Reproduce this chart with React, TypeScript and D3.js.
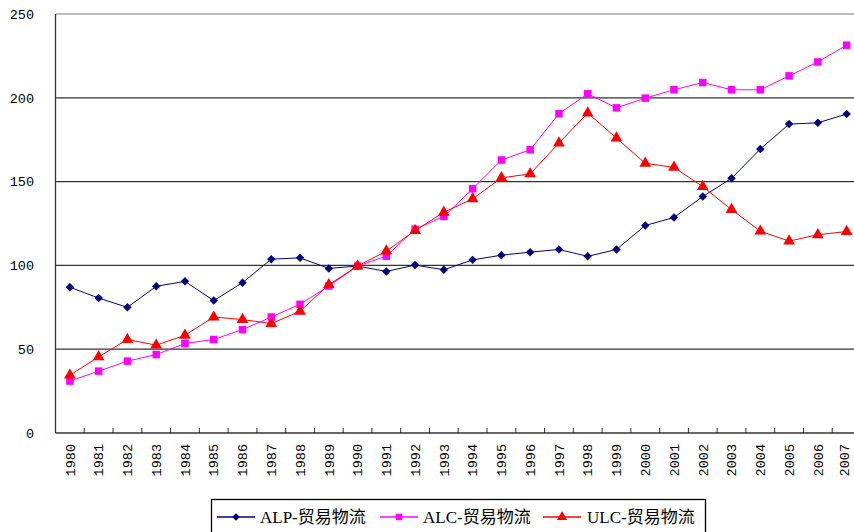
import React from "react";
import * as d3 from "d3";

const years = [
  "1980", "1981", "1982", "1983", "1984", "1985", "1986", "1987", "1988", "1989",
  "1990", "1991", "1992", "1993", "1994", "1995", "1996", "1997", "1998", "1999",
  "2000", "2001", "2002", "2003", "2004", "2005", "2006", "2007",
];

const alp = [
  87, 80.5, 75, 87.5, 90.5, 79, 89.7, 103.7, 104.5, 98.2,
  99.6, 96.4, 100.2, 97.4, 103.3, 106.1, 107.9, 109.5, 105.4, 109.5,
  123.8, 128.6, 141.1, 152, 169.4, 184.3, 185.1, 190.3,
];

const alc = [
  31, 36.9, 42.9, 46.8, 53.4, 55.8, 61.7, 69.2, 76.8, 87.7,
  99.6, 105.5, 121.6, 129.2, 145.7, 162.9, 169, 190.5, 202.4, 194,
  199.8, 204.8, 209.1, 204.8, 204.8, 213.1, 221.4, 231.4,
];

const ulc = [
  34.5, 45.4, 55.8, 52.4, 58.3, 69.2, 67.7, 65.3, 72.6, 88.5,
  99.6, 108.5, 120.8, 131.7, 139.7, 152.2, 154.6, 173, 190.9, 176,
  160.9, 158.5, 147, 133.3, 120.4, 114.5, 118.3, 120.2,
];

const yTicks = [0, 50, 100, 150, 200, 250];

const seriesNames = ["ALP-贸易物流", "ALC-贸易物流", "ULC-贸易物流"];

const W = 854;
const H = 532;
const left = 55.5;
const right = 861;
const top = 14;
const bottom = 433;

const colors = ["#000080", "#FF00FF", "#FF0000"];
const symbols = [d3.symbolSquare, d3.symbolSquare, d3.symbolTriangle];
const symSizes = [36, 56, 60];

export default function App() {
  const x = d3.scaleBand<string>().domain(years).range([left, right]);
  const y = d3.scaleLinear().domain([0, 250]).range([bottom, top]);
  const cx = (yr: string) => (x(yr) as number) + x.bandwidth() / 2;

  const allSeries = [alp, alc, ulc];
  const line = d3
    .line<number>()
    .x((_, i) => cx(years[i]))
    .y((d) => y(d));

  const legendItems = [
    { lx: 217, tx: 260 },
    { lx: 380, tx: 423 },
    { lx: 543, tx: 587 },
  ];

  return (
    <svg
      width={W}
      height={H}
      style={{ position: "fixed", left: 0, top: 0, background: "#fff" }}
    >
      {/* gridlines */}
      {yTicks.slice(1).map((t) => (
        <line
          key={t}
          x1={left}
          x2={W}
          y1={y(t)}
          y2={y(t)}
          stroke={t === 250 ? "#a8a8a8" : "#333"}
          strokeWidth={1.3}
        />
      ))}
      {/* axes */}
      <line x1={left} x2={left} y1={top} y2={bottom} stroke="#333" strokeWidth={1.3} />
      <line x1={left} x2={W} y1={bottom} y2={bottom} stroke="#333" strokeWidth={1.3} />
      {years.map((yr, i) =>
        i === 0 ? null : (
          <line
            key={yr}
            x1={x(yr)}
            x2={x(yr)}
            y1={bottom}
            y2={bottom - 5}
            stroke="#333"
            strokeWidth={1}
          />
        )
      )}
      {/* y labels */}
      {yTicks.map((t) => (
        <text
          key={t}
          x={34}
          y={y(t)}
          dy="0.35em"
          textAnchor="end"
          fontFamily="'Liberation Mono'"
          fontSize={13.5}
          fill="#000"
        >
          {t}
        </text>
      ))}
      {/* x labels */}
      {years.map((yr) => (
        <text
          key={yr}
          transform={`translate(${Math.min(cx(yr), W - 10)},${bottom + 11}) rotate(-90)`}
          dy="0.35em"
          textAnchor="end"
          fontFamily="'Liberation Mono'"
          fontSize={13.5}
          fill="#000"
        >
          {yr}
        </text>
      ))}
      {/* series */}
      {allSeries.map((s, si) => (
        <g key={si}>
          <path d={line(s) as string} fill="none" stroke={colors[si]} strokeWidth={1} />
          {s.map((v, i) => (
            <path
              key={i}
              transform={`translate(${cx(years[i])},${y(v)})${si === 0 ? " rotate(45)" : ""}`}
              d={d3.symbol(symbols[si], symSizes[si])() as string}
              fill={colors[si]}
            />
          ))}
        </g>
      ))}
      {/* legend */}
      <rect x={211.5} y={499.5} width={494} height={40} fill="#fff" stroke="#000" strokeWidth={1.3} />
      {legendItems.map((it, i) => (
        <g key={i}>
          <line x1={it.lx} x2={it.lx + 38} y1={517} y2={517} stroke={colors[i]} strokeWidth={1.3} />
          <path
            transform={`translate(${it.lx + 19},517)${i === 0 ? " rotate(45)" : ""}`}
            d={d3.symbol(symbols[i], i === 0 ? 28 : symSizes[i] - 14)() as string}
            fill={colors[i]}
          />
          <text
            x={it.tx}
            y={517}
            dy="0.35em"
            fontFamily="'Liberation Serif', 'Noto Sans CJK SC'"
            fontSize={17}
            fill="#000"
          >
            {seriesNames[i]}
          </text>
        </g>
      ))}
    </svg>
  );
}
